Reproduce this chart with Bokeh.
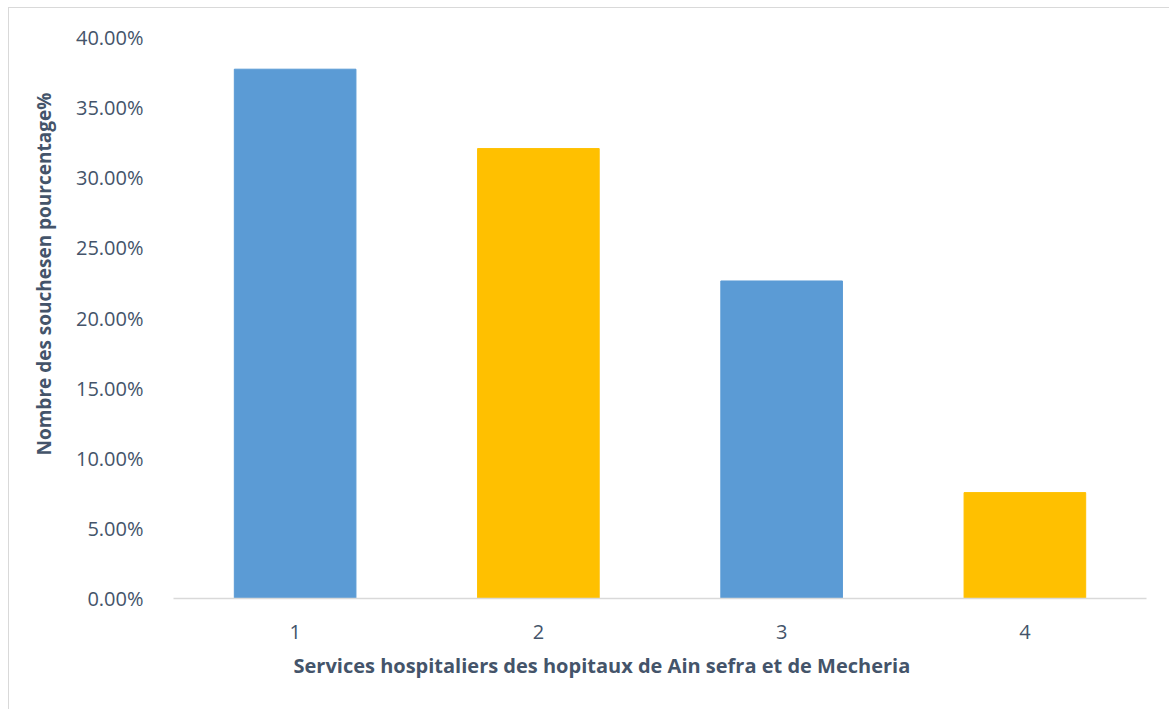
from bokeh.plotting import figure
from bokeh.models import NumeralTickFormatter, Range1d, FixedTicker, ColumnDataSource, Title
from bokeh.embed import file_html
from bokeh.resources import INLINE

categories = [1, 2, 3, 4]
values = [0.3774, 0.3208, 0.2264, 0.0755]
colors = ["#5B9BD5", "#FFC000", "#5B9BD5", "#FFC000"]
y_ticks = [0.0, 0.05, 0.10, 0.15, 0.20, 0.25, 0.30, 0.35, 0.40]
x_title = "Services hospitaliers des hopitaux de Ain sefra et de Mecheria"
y_title = "Nombre des souchesen pourcentage%"

src = ColumnDataSource(dict(x=categories, top=values, color=colors))

TXT = "#44546A"
FONT = "Open Sans"

p = figure(width=1161, height=702, output_backend="svg", toolbar_location=None,
           x_range=Range1d(0.5, 4.5), y_range=Range1d(0, 0.40),
           min_border_left=164, min_border_right=24, min_border_top=29, min_border_bottom=112,
           margin=(7, 0, 0, 8))
p.styles = {"border-top": "1px solid #D9D9D9", "border-left": "1px solid #D9D9D9"}
p.outline_line_color = None
p.xgrid.visible = False
p.ygrid.visible = False

p.vbar(x="x", top="top", width=0.5, color="color", source=src)

p.yaxis.ticker = FixedTicker(ticks=y_ticks)
p.yaxis.formatter = NumeralTickFormatter(format="0.00%")
p.yaxis.axis_line_color = None
p.yaxis.major_tick_line_color = None
p.yaxis.minor_tick_line_color = None
p.yaxis.major_label_text_font = FONT
p.yaxis.major_label_text_font_size = "20px"
p.yaxis.major_label_text_color = TXT
p.yaxis.major_label_standoff = 24

p.xaxis.ticker = FixedTicker(ticks=categories)
p.xaxis.axis_line_color = "#D9D9D9"
p.xaxis.axis_line_width = 1.5
p.xaxis.major_tick_line_color = None
p.xaxis.minor_tick_line_color = None
p.xaxis.major_label_text_font = FONT
p.xaxis.major_label_text_font_size = "20px"
p.xaxis.major_label_text_color = TXT
p.xaxis.major_label_standoff = 20

p.add_layout(Title(text=x_title, text_font=FONT, text_font_style="bold",
                   text_font_size="20px", text_color=TXT, align="left", offset=120,
                   standoff=16), "below")
p.add_layout(Title(text=y_title, text_font=FONT, text_font_style="bold",
                   text_font_size="19px", text_color=TXT, align="left", offset=143,
                   standoff=32), "left")

open("out.html", "w").write(file_html(p, INLINE))
